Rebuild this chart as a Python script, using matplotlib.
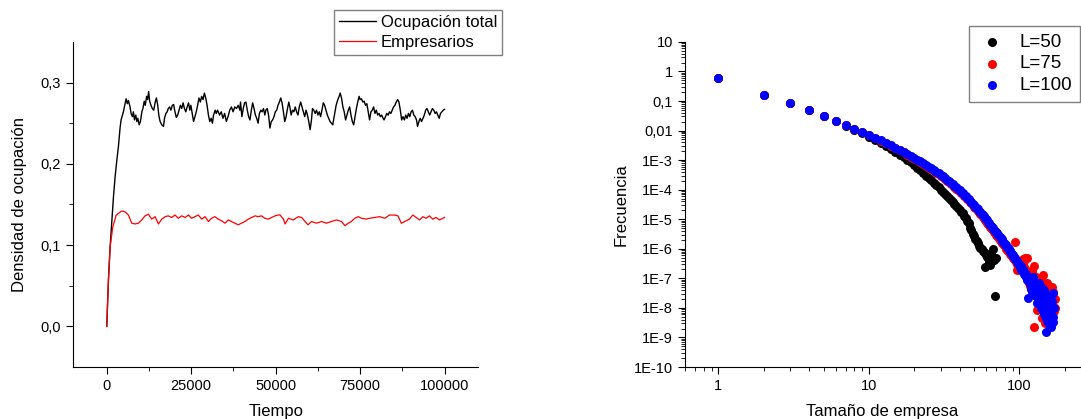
import numpy as np
import matplotlib
matplotlib.use("Agg")
import matplotlib.pyplot as plt
from matplotlib.ticker import FixedLocator, FuncFormatter, LogLocator, NullFormatter

plt.rcParams["font.family"] = ["Liberation Sans", "DejaVu Sans"]

# --- left panel: occupation density over time ---
time_total = [0, 500, 1000, 1500, 2000, 2500, 3000, 3450, 3940, 4240,
              4930, 5420, 5720, 6100, 6400, 6900, 7200, 7600, 7900, 8200,
              8600, 8900, 9200, 9600, 9960, 10400, 10700, 11100, 11400, 11800,
              12100, 12400, 12700, 13100, 13500, 13900, 14300, 14700, 15100, 15400,
              15800, 16300, 16800, 17100, 17500, 17900, 18200, 18600, 19000, 19400,
              19800, 20200, 20600, 21000, 21400, 21800, 22200, 22600, 23000, 23400,
              23800, 24200, 24600, 24900, 25300, 25700, 26100, 26500, 26900, 27300,
              27700, 28100, 28500, 28900, 29300, 29700, 30100, 30500, 30900, 31300,
              31600, 32100, 32400, 32800,
              33400, 33900, 34400, 34900, 35400, 35900, 36400, 36900, 37400, 37900,
              38400, 38900, 39400, 39600, 40000, 40400, 40800, 41200, 41600, 42000,
              42400, 42800, 43200, 43600, 44000, 44400, 44800, 45200, 45600, 46000,
              46400, 46800, 47100, 47500, 47900, 48300, 48700, 49100, 49500, 49900,
              50300, 50700, 51100, 51500, 51900, 52300, 52700, 53100, 53500, 53900,
              54200, 54600, 55000, 55400, 55800, 56200, 56600, 57000, 57400, 57800,
              58200, 58600, 59000, 59400, 59800, 60200, 60600, 60900, 61300, 61700,
              62100, 62500, 62900, 63300, 63700, 64100, 64500, 64900, 65300, 65700,
              66100, 66500,
              66900, 67400, 67900, 68400, 68800, 69100, 69500, 69900, 70300, 70700,
              71100, 71500, 71900, 72300, 72700, 73100, 73500, 73900, 74300, 74700,
              75000, 75400, 75800, 76200, 76600, 77000, 77400, 77800, 78200, 78600,
              79000, 79400, 79800, 80200, 80600, 81000, 81400, 81800, 82100, 82500,
              82900, 83300, 83700, 84100, 84500, 84900, 85300, 85700, 86100, 86500,
              86900, 87300, 87700, 88100, 88500, 88900, 89300, 89700, 90100, 90500,
              90900, 91300, 91700, 92000, 92400, 92800, 93200, 93600, 94000, 94400,
              94800, 95200, 95600, 96000, 96400, 96800, 97200, 97600, 98000, 98400,
              98800, 99200, 99600, 100000]
dens_total = [0, 0.057, 0.098, 0.13, 0.16, 0.185, 0.205, 0.221, 0.244, 0.254,
              0.264, 0.274, 0.280, 0.274, 0.278, 0.270, 0.262, 0.258, 0.264, 0.254,
              0.260, 0.252, 0.256, 0.248, 0.252, 0.264, 0.268, 0.277, 0.272, 0.283,
              0.279, 0.289, 0.277, 0.272, 0.268, 0.266, 0.275, 0.281, 0.272, 0.260,
              0.252, 0.248, 0.246, 0.256, 0.262, 0.264, 0.268, 0.270, 0.266, 0.272,
              0.273, 0.264, 0.257, 0.260, 0.266, 0.272, 0.268, 0.275, 0.268, 0.264,
              0.270, 0.275, 0.266, 0.272, 0.262, 0.252, 0.258, 0.264, 0.272, 0.281,
              0.276, 0.283, 0.279, 0.287, 0.281, 0.272, 0.260, 0.252, 0.256, 0.250,
              0.260, 0.266, 0.262, 0.266,
              0.260, 0.264, 0.256, 0.262, 0.252, 0.258, 0.266, 0.270, 0.264, 0.270,
              0.268, 0.272, 0.266, 0.276, 0.258, 0.268, 0.275, 0.276, 0.266, 0.258,
              0.254, 0.266, 0.275, 0.268, 0.260, 0.256, 0.250, 0.262, 0.266, 0.264,
              0.268, 0.260, 0.266, 0.268, 0.260, 0.244, 0.252, 0.254, 0.258, 0.264,
              0.266, 0.272, 0.276, 0.281, 0.275, 0.264, 0.252, 0.258, 0.268, 0.276,
              0.270, 0.260, 0.266, 0.264, 0.270, 0.264, 0.260, 0.270, 0.276, 0.270,
              0.264, 0.258, 0.266, 0.260, 0.252, 0.242, 0.254, 0.268, 0.266, 0.262,
              0.266, 0.260, 0.264, 0.258, 0.266, 0.275, 0.272, 0.266, 0.260, 0.256,
              0.252, 0.250,
              0.248, 0.260, 0.272, 0.279, 0.283, 0.287, 0.281, 0.270, 0.264, 0.254,
              0.260, 0.266, 0.270, 0.260, 0.252, 0.248, 0.258, 0.268, 0.276, 0.283,
              0.279, 0.280, 0.276, 0.277, 0.272, 0.274, 0.264, 0.254, 0.264, 0.266,
              0.270, 0.262, 0.266, 0.260, 0.262, 0.258, 0.260, 0.256, 0.254, 0.258,
              0.262, 0.260, 0.264, 0.262, 0.266, 0.270, 0.272, 0.276, 0.279, 0.276,
              0.266, 0.254, 0.258, 0.254, 0.260, 0.256, 0.262, 0.258, 0.264, 0.266,
              0.260, 0.258, 0.254, 0.246, 0.252, 0.256, 0.252, 0.256, 0.260, 0.266,
              0.268, 0.264, 0.260, 0.264, 0.268, 0.266, 0.262, 0.264, 0.260, 0.256,
              0.262, 0.264, 0.266, 0.267]

time_empr = [0, 500, 1000, 1800, 2800, 3450, 4430, 5420, 6400, 7400,
             8380, 9370, 10360, 11340, 12330, 13300, 14300, 15300, 16300, 17300,
             18200, 19200, 20200, 21200, 22200, 23200, 24200, 25100, 26100, 27100,
             28100, 29100, 30100, 31000, 32000, 33000, 34000, 35000, 36000, 36900,
             37900, 38900, 39900, 40900, 41900, 42900, 43900, 44800, 45800, 46800,
             47800, 48800, 49800, 50700, 51300, 52300, 52800, 53800, 55200, 56700,
             57700, 58700, 59600, 60600, 62100, 63600, 65000, 66500, 68000, 69500,
             70500, 71500, 72400, 73400, 74400, 75400, 76900, 77800, 79300, 80800,
             82300, 83700, 85200, 86200, 87200, 88200, 89600, 90600, 91600, 92600,
             93600, 94500, 95500, 96500, 97500, 98500, 99500, 100000]
dens_empr = [0, 0.057, 0.098, 0.1225, 0.137, 0.139, 0.142, 0.141, 0.137, 0.127,
             0.126, 0.127, 0.131, 0.136, 0.138, 0.132, 0.135, 0.126, 0.132, 0.135,
             0.136, 0.134, 0.137, 0.133, 0.136, 0.134, 0.137, 0.133, 0.135, 0.137,
             0.132, 0.135, 0.129, 0.133, 0.135, 0.132, 0.130, 0.127, 0.131, 0.129,
             0.127, 0.125, 0.127, 0.129, 0.132, 0.134, 0.136, 0.135, 0.136, 0.133,
             0.132, 0.134, 0.136, 0.137, 0.137, 0.132, 0.126, 0.133, 0.131, 0.135,
             0.134, 0.129, 0.125, 0.129, 0.127, 0.129, 0.127, 0.129, 0.131, 0.129,
             0.124, 0.127, 0.129, 0.133, 0.135, 0.133, 0.132, 0.133, 0.134, 0.135,
             0.133, 0.137, 0.137, 0.136, 0.127, 0.129, 0.132, 0.137, 0.134, 0.131,
             0.135, 0.133, 0.136, 0.132, 0.134, 0.131, 0.133, 0.134]

# --- right panel: firm size distribution (log10 of frequency) ---
sizes_L50 = list(range(1, 71))
logfreq_L50 = [-0.22, -0.80, -1.08, -1.31, -1.52, -1.69, -1.84, -1.98, -2.09, -2.22,
               -2.32, -2.42, -2.52, -2.62, -2.71, -2.81, -2.90, -2.99, -3.08, -3.17,
               -3.26, -3.35, -3.43, -3.52, -3.60, -3.68, -3.76, -3.84, -3.92, -4.00,
               -4.07, -4.14, -4.21, -4.28, -4.36, -4.42, -4.50, -4.55, -4.62, -4.69,
               -4.75, -4.80, -4.90, -4.97, -5.05, -5.12, -5.28, -5.38, -5.50, -5.55,
               -5.68, -5.72, -5.81, -5.90, -5.98, -6.02, -6.08, -6.12, -6.62, -6.20,
               -6.28, -6.26, -6.45, -6.54, -6.15, -6.40, -6.00, -6.38, -7.59, -6.31]

sizes_L75 = list(range(1, 101)) + [
    101, 102, 103, 104, 105, 106, 107, 108, 109, 110, 111, 112, 113, 114, 115, 116,
    117, 118, 119, 120, 121, 122, 123, 124, 125, 126, 127, 128, 129, 130, 131, 132,
    133, 134, 135, 136, 137, 138, 139, 141, 142, 143, 144, 145, 146, 148, 149, 150,
    152, 153, 155, 156, 158, 160, 162, 163, 164, 165, 167, 168, 169, 171, 173]
logfreq_L75 = [-0.22, -0.80, -1.08, -1.31, -1.51, -1.67, -1.81, -1.95, -2.05, -2.16,
               -2.25, -2.34, -2.43, -2.51, -2.59, -2.67, -2.74, -2.81, -2.88, -2.95,
               -3.01, -3.07, -3.13, -3.19, -3.25, -3.31, -3.36, -3.42, -3.47, -3.53,
               -3.58, -3.64, -3.69, -3.75, -3.80, -3.85, -3.90, -3.96, -4.01, -4.06,
               -4.11, -4.16, -4.21, -4.26, -4.31, -4.36, -4.41, -4.46, -4.51, -4.57,
               -4.62, -4.67, -4.72, -4.77, -4.82, -4.87, -4.92, -4.96, -5.01, -5.06,
               -5.11, -5.15, -5.20, -5.25, -5.29, -5.34, -5.38, -5.43, -5.47, -5.52,
               -5.56, -5.60, -5.64, -5.69, -5.73, -5.77, -5.81, -5.84, -5.88, -5.92,
               -5.96, -5.99, -6.03, -6.07, -6.10, -6.14, -6.18, -6.21, -6.25, -6.28,
               -6.32, -6.35, -6.39, -5.76, -6.46, -6.72, -6.52, -6.60, -6.45, -6.63,
               -6.50, -6.62, -6.45, -6.70, -6.35, -6.78, -6.60, -6.40, -6.32, -6.85,
               -6.70, -6.95, -6.31, -7.05, -6.80, -7.15, -6.90, -7.25, -7.00, -7.35,
               -6.75, -7.20, -7.45, -8.65, -6.58, -7.10, -7.55, -7.30, -6.95, -8.06,
               -7.40, -7.65, -7.15, -7.80, -7.50, -7.25, -7.90, -7.60, -7.05, -8.34,
               -7.70, -7.35, -6.88, -7.95, -7.55, -8.51, -7.80, -7.30, -7.16, -8.05,
               -7.65, -7.96, -8.20, -7.50, -7.85, -7.56, -7.28, -8.30, -7.95, -7.45,
               -8.12, -8.00, -7.70]

sizes_L100 = list(range(1, 101)) + [
    101, 102, 103, 104, 105, 106, 107, 108, 109, 110, 111, 112, 113, 114, 115, 116,
    117, 118, 119, 120, 121, 122, 123, 124, 125, 126, 127, 128, 129, 130, 131, 132,
    133, 134, 135, 136, 137, 138, 139, 140, 141, 142, 143, 144, 145, 146, 147, 148,
    149, 150, 151, 152, 153, 154, 155, 157, 158, 160, 161, 163, 164, 166, 167, 168, 170]
logfreq_L100 = [-0.22, -0.80, -1.08, -1.31, -1.51, -1.67, -1.81, -1.95, -2.05, -2.15,
                -2.24, -2.33, -2.42, -2.50, -2.58, -2.65, -2.72, -2.79, -2.86, -2.92,
                -2.98, -3.04, -3.10, -3.16, -3.22, -3.28, -3.33, -3.39, -3.44, -3.50,
                -3.55, -3.60, -3.66, -3.71, -3.76, -3.81, -3.86, -3.92, -3.97, -4.02,
                -4.07, -4.12, -4.17, -4.22, -4.27, -4.32, -4.37, -4.42, -4.47, -4.52,
                -4.57, -4.62, -4.67, -4.71, -4.76, -4.81, -4.86, -4.90, -4.95, -5.00,
                -5.04, -5.09, -5.13, -5.18, -5.22, -5.27, -5.31, -5.35, -5.40, -5.44,
                -5.48, -5.52, -5.56, -5.60, -5.64, -5.68, -5.72, -5.76, -5.79, -5.83,
                -5.87, -5.91, -5.95, -5.98, -6.02, -6.06, -6.09, -6.13, -6.17, -6.20,
                -6.24, -6.27, -6.31, -6.35, -6.38, -6.42, -6.45, -6.49, -6.52, -6.56,
                -6.62, -6.58, -6.70, -6.66, -6.75, -6.72, -6.85, -6.80, -6.88, -6.95,
                -6.86, -7.05, -6.98, -7.65, -7.10, -7.00, -7.20, -7.12, -7.35, -7.05,
                -7.28, -7.45, -6.95, -7.30, -7.52, -7.15, -7.40, -7.60, -7.25, -7.50,
                -7.82, -7.35, -7.62, -7.15, -7.75, -7.45, -7.90, -7.55, -7.30, -8.00,
                -7.65, -7.48, -8.10, -7.80, -7.40, -8.20, -7.70, -7.95, -8.35, -8.80,
                -7.85, -8.05, -8.45, -7.60, -8.25, -8.55, -7.90, -8.35, -8.10, -8.65,
                -7.75, -7.48, -8.30, -8.46, -8.00]

decade_ticks = [1e-10, 1e-9, 1e-8, 1e-7, 1e-6, 1e-5, 1e-4, 1e-3, 1e-2, 1e-1, 1, 10]
decade_labels = ["1E-10", "1E-9", "1E-8", "1E-7", "1E-6", "1E-5", "1E-4", "1E-3",
                 "0,01", "0,1", "1", "10"]

fig = plt.figure(figsize=(10.81, 4.19), dpi=100)

# left panel
ax1 = fig.add_axes([0.0675, 0.124, 0.375, 0.776])
ax1.plot(time_total, dens_total, color="black", lw=1.0, label="Ocupación total")
ax1.plot(time_empr, dens_empr, color="red", lw=0.9, label="Empresarios")
ax1.set_xlim(-10000, 110000)
ax1.set_ylim(-0.05, 0.35)
ax1.xaxis.set_major_locator(FixedLocator([0, 25000, 50000, 75000, 100000]))
ax1.xaxis.set_minor_locator(FixedLocator([12500, 37500, 62500, 87500]))
ax1.yaxis.set_major_locator(FixedLocator([0.0, 0.1, 0.2, 0.3]))
ax1.yaxis.set_minor_locator(FixedLocator([0.05, 0.15, 0.25]))
ax1.yaxis.set_major_formatter(FuncFormatter(lambda v, p: f"{v:.1f}".replace(".", ",")))
ax1.set_xlabel("Tiempo", fontsize=12, labelpad=8)
ax1.set_ylabel("Densidad de ocupación", fontsize=12, labelpad=10)
for s in ["top", "right"]:
    ax1.spines[s].set_visible(False)
ax1.tick_params(which="major", direction="out", length=5, labelsize=10.5)
ax1.tick_params(which="minor", direction="out", length=3)
fig.legend(loc="upper right", bbox_to_anchor=(502 / 1081, 1 - 10 / 419),
           fontsize=12, frameon=True, fancybox=False, edgecolor="#808080",
           framealpha=1, handlelength=2.2, borderaxespad=0, borderpad=0.3,
           labelspacing=0.3, handletextpad=0.3)

# right panel
ax2 = fig.add_axes([0.6337, 0.124, 0.3655, 0.776])
ax2.scatter(sizes_L50, np.power(10.0, logfreq_L50), s=42, color="black", lw=0, label="L=50")
ax2.scatter(sizes_L75, np.power(10.0, logfreq_L75), s=42, color="red", lw=0, label="L=75")
ax2.scatter(sizes_L100, np.power(10.0, logfreq_L100), s=42, color="blue", lw=0, label="L=100")
ax2.set_xscale("log")
ax2.set_yscale("log")
ax2.set_xlim(0.6, 253)
ax2.set_ylim(1e-10, 10)
ax2.set_yticks(decade_ticks)
ax2.set_yticklabels(decade_labels)
ax2.yaxis.set_minor_locator(LogLocator(base=10, subs=np.arange(2, 10), numticks=30))
ax2.yaxis.set_minor_formatter(NullFormatter())
ax2.set_xticks([1, 10, 100])
ax2.set_xticklabels(["1", "10", "100"])
ax2.xaxis.set_minor_locator(LogLocator(base=10, subs=np.arange(2, 10), numticks=10))
ax2.xaxis.set_minor_formatter(NullFormatter())
ax2.set_xlabel("Tamaño de empresa", fontsize=12, labelpad=8)
ax2.set_ylabel("Frecuencia", fontsize=12)
for s in ["top", "right"]:
    ax2.spines[s].set_visible(False)
ax2.tick_params(which="major", direction="out", length=5, labelsize=10.5)
ax2.tick_params(which="minor", direction="out", length=3)
ax2.legend(loc="upper right", bbox_to_anchor=(1080 / 1081, 1 - 26 / 419),
           bbox_transform=fig.transFigure, fontsize=13.5, frameon=True, fancybox=False,
           edgecolor="#808080", framealpha=1, borderaxespad=0, borderpad=0.4,
           labelspacing=0.25, handlelength=1.6, handletextpad=0.7, markerscale=1.0)

fig.savefig("out.png", dpi=100)
